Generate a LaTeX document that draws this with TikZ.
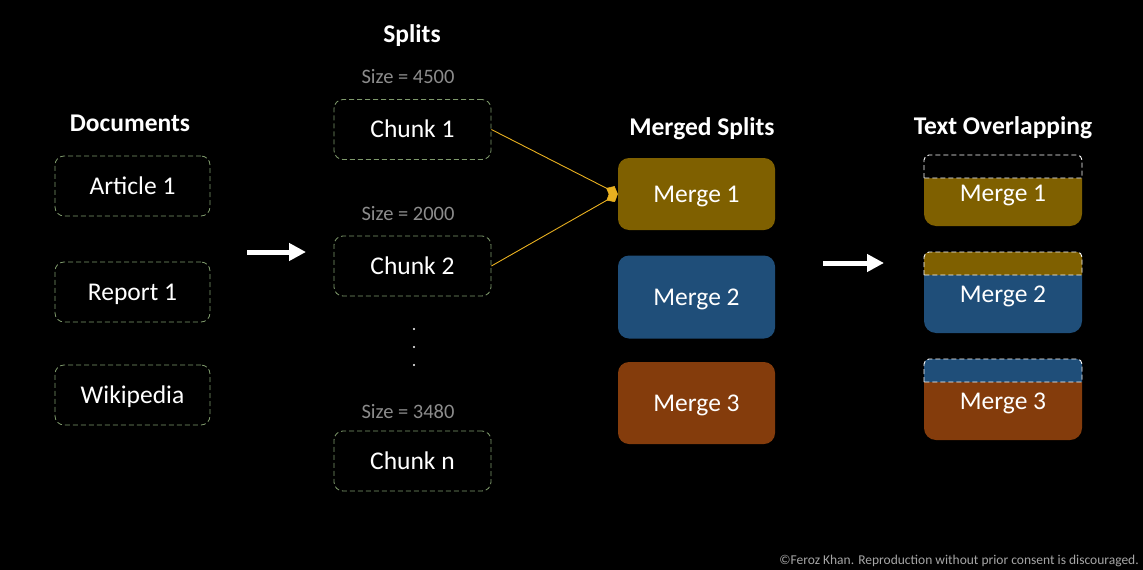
\documentclass[tikz,border=0pt]{standalone}
\usepackage{fontspec}
\setmainfont{Carlito}
\usetikzlibrary{arrows.meta}
\definecolor{dashgreen}{HTML}{7F9A6C}
\definecolor{sizegray}{HTML}{8C8C8C}
\definecolor{goldm}{HTML}{7F6000}
\definecolor{bluem}{HTML}{1F4E79}
\definecolor{brownm}{HTML}{843C0C}
\definecolor{linegold}{HTML}{E8B020}
\definecolor{copygray}{HTML}{A6A6A6}
\tikzset{
  boxtext/.style={text=white, font=\fontsize{25.5}{30}\selectfont, text height=16.5pt, text depth=0pt},
  docbox/.style={boxtext, draw=dashgreen, dashed, dash pattern=on 5pt off 3pt, line width=0.8pt, rounded corners=9pt, minimum width=155pt, minimum height=60pt, inner sep=0pt},
  mergebox/.style={boxtext, rounded corners=11pt, minimum width=157pt, inner sep=0pt},
  title/.style={text=white, font=\bfseries\fontsize{25.5}{30}\selectfont},
  sizelbl/.style={text=sizegray, font=\fontsize{20.5}{24}\selectfont},
  bigarrow/.style={draw=white, line width=5pt, -{Triangle[length=17pt,width=17pt]}},
  feed/.style={draw=linegold, line width=0.9pt, -{Diamond[length=13pt,width=11pt,fill=linegold,line width=0.5pt]}},
  strip/.style={draw=white, dashed, dash pattern=on 5pt off 3pt, line width=0.9pt, rounded corners=5pt},
  overtxt/.style={boxtext, inner sep=0pt}
}
\begin{document}
\begin{tikzpicture}[x=1pt,y=-1pt]
\fill[black] (0,0) rectangle (1143,570);
\useasboundingbox (0,0) rectangle (1143,570);

% Documents
\node[title] (tdoc) at (130,123) {Documents};
\node[docbox] (d1) at (132.5,186) {Article 1};
\node[docbox] (d2) at (132.5,292) {Report 1};
\node[docbox] (d3) at (132.5,395) {Wikipedia};

% arrow 1
\coordinate (a1s) at (247,252);
\coordinate (a1e) at (306,252);
\draw[bigarrow] (a1s) -- (a1e);

% Splits
\node[title] (tspl) at (412,36) {Splits};
\node[sizelbl] (s1) at (408,77) {Size = 4500};
\node[docbox, minimum width=157pt] (c1) at (412.5,129.5) {Chunk 1};
\node[sizelbl] (s2) at (408,214) {Size = 2000};
\node[docbox, minimum width=157pt] (c2) at (412.5,266) {Chunk 2};
\node[circle, fill=white, inner sep=0pt, minimum size=2.2pt] (dt1) at (414,329) {};
\node[circle, fill=white, inner sep=0pt, minimum size=2.2pt] (dt2) at (414,347) {};
\node[circle, fill=white, inner sep=0pt, minimum size=2.2pt] (dt3) at (414,365) {};
\node[sizelbl] (s3) at (408,412) {Size = 3480};
\node[docbox, minimum width=157pt] (cn) at (412.5,461) {Chunk n};

% Merged splits
\node[title] (tmrg) at (702,129) {Merged Splits};
\node[mergebox, fill=goldm, minimum height=72pt] (m1) at (696.5,194) {Merge 1};
\node[mergebox, fill=bluem, minimum height=83pt] (m2) at (696.5,297) {Merge 2};
\node[mergebox, fill=brownm, minimum height=82pt] (m3) at (696.5,403) {Merge 3};

\draw[feed] (c1.east) -- (m1.west);
\draw[feed] (c2.east) -- (m1.west);

% arrow 2
\coordinate (a2s) at (823,263);
\coordinate (a2e) at (884,263);
\draw[bigarrow] (a2s) -- (a2e);

% Text Overlapping
\node[title] (tovl) at (1003,128) {Text Overlapping};

\fill[goldm, rounded corners=12pt] (924,178) -- (924,226) -- (1082,226) [sharp corners] -- (1082,178) -- cycle;
\draw[strip, fill=black] (924,178) [rounded corners=5pt] -- (924,155) -- (1082,155) [sharp corners] -- (1082,178) -- cycle;
\node[overtxt] (o1) at (1003,193) {Merge 1};

\fill[bluem, rounded corners=12pt] (924,275) -- (924,333) -- (1082,333) [sharp corners] -- (1082,275) -- cycle;
\draw[strip, fill=goldm] (924,275) [rounded corners=5pt] -- (924,252) -- (1082,252) [sharp corners] -- (1082,275) -- cycle;
\node[overtxt] (o2) at (1003,294) {Merge 2};

\fill[brownm, rounded corners=12pt] (924,382) -- (924,440) -- (1082,440) [sharp corners] -- (1082,382) -- cycle;
\draw[strip, fill=bluem] (924,382) [rounded corners=5pt] -- (924,359) -- (1082,359) [sharp corners] -- (1082,382) -- cycle;
\node[overtxt] (o3) at (1003,401) {Merge 3};

% copyright
\node[anchor=east, text=copygray, font=\fontsize{13.5}{16}\selectfont, inner sep=0pt] (cr) at (1139,561) {©Feroz Khan. Reproduction without prior consent is discouraged.};
\end{tikzpicture}
\end{document}
